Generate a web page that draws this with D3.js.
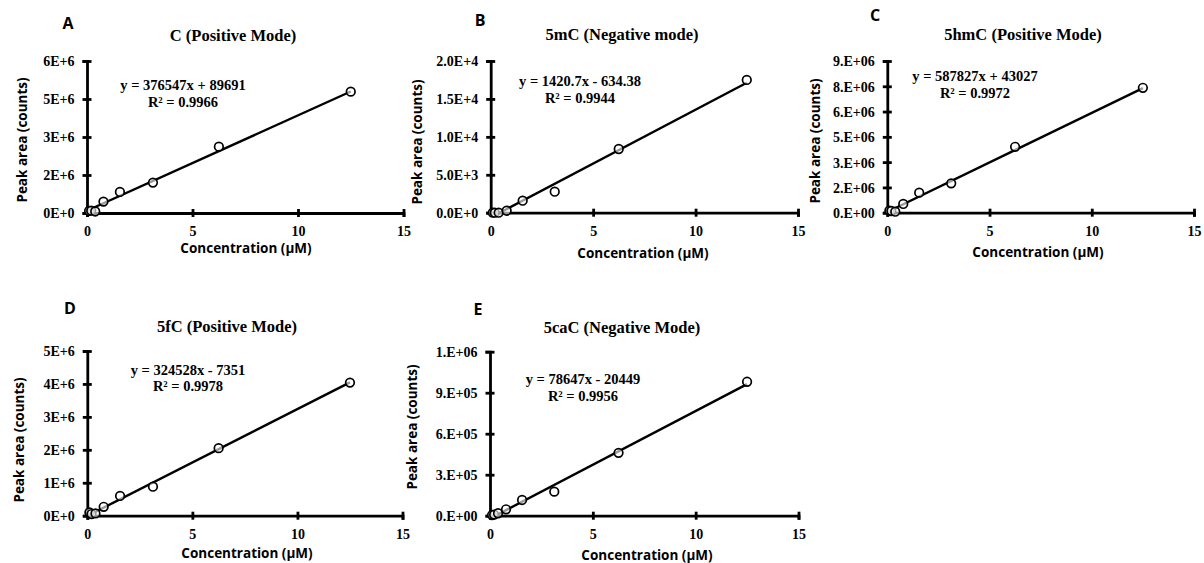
<!DOCTYPE html>
<html>
<head>
<meta charset="utf-8">
<script src="https://cdn.jsdelivr.net/npm/d3@7"></script>
<style>
  html, body { margin: 0; padding: 0; background: #fff; }
  svg { display: block; }
  .tick text { font-family: "Liberation Serif", "Times New Roman", serif; font-weight: bold; font-size: 14px; fill: #000; }
  .axis path, .axis line { stroke: #000; stroke-width: 2.8px; }
  .sans { font-family: "Open Sans", "Noto Sans", sans-serif; font-weight: bold; fill: #000; }
  .serif { font-family: "Liberation Serif", "Times New Roman", serif; font-weight: bold; fill: #000; }
</style>
</head>
<body>
<svg id="chart" width="1204" height="563"></svg>
<script>
// Standard concentrations (µM)
const concentration = [0.1, 0.2, 0.39, 0.78, 1.56, 3.125, 6.25, 12.5];

// Measured peak areas (counts) per nucleoside
const peakC     = [80000, 90000, 60000, 450000, 830000, 1200000, 2620000, 4790000];
const peak5mC   = [0, 0, 0, 260, 1580, 2770, 8400, 17500];
const peak5hmC  = [120000, 100000, 60000, 520000, 1190000, 1740000, 3910000, 7410000];
const peak5fC   = [100000, 50000, 70000, 270000, 600000, 880000, 2050000, 4040000];
const peak5caC  = [5000, 8000, 18000, 47000, 115000, 176000, 460000, 980000];

// Linear fits
const fitSlope     = [376547, 1420.7, 587827, 324528, 78647];
const fitIntercept = [89691, -634.38, 43027, -7351, -20449];
const fitEquation  = ["y = 376547x + 89691", "y = 1420.7x - 634.38", "y = 587827x + 43027", "y = 324528x - 7351", "y = 78647x - 20449"];
const fitR2        = ["R² = 0.9966", "R² = 0.9944", "R² = 0.9972", "R² = 0.9978", "R² = 0.9956"];

// Panel letters and titles
const panelLetters = ["A", "B", "C", "D", "E"];
const panelTitles  = ["C (Positive Mode)", "5mC (Negative mode)", "5hmC (Positive Mode)", "5fC (Positive Mode)", "5caC (Negative Mode)"];

// Axis ticks
const xTicks = [0, 5, 10, 15];
const yTicksC    = [0, 1500000, 3000000, 4500000, 6000000];
const yLabelsC   = ["0E+0", "2E+6", "3E+6", "5E+6", "6E+6"];
const yTicks5mC  = [0, 5000, 10000, 15000, 20000];
const yLabels5mC = ["0.0E+0", "5.0E+3", "1.0E+4", "1.5E+4", "2.0E+4"];
const yTicks5hmC  = [0, 1500000, 3000000, 4500000, 6000000, 7500000, 9000000];
const yLabels5hmC = ["0.E+00", "2.E+06", "3.E+06", "5.E+06", "6.E+06", "8.E+06", "9.E+06"];
const yTicks5fC  = [0, 1000000, 2000000, 3000000, 4000000, 5000000];
const yLabels5fC = ["0E+0", "1E+6", "2E+6", "3E+6", "4E+6", "5E+6"];
const yTicks5caC  = [0, 300000, 600000, 900000, 1200000];
const yLabels5caC = ["0.E+00", "3.E+05", "6.E+05", "9.E+05", "1.E+06"];

const xLabel = "Concentration (µM)";
const yLabel = "Peak area (counts)";

// Series table assembled from the arrays above
const series = [
  { peaks: peakC,    ticks: yTicksC,    labels: yLabelsC },
  { peaks: peak5mC,  ticks: yTicks5mC,  labels: yLabels5mC },
  { peaks: peak5hmC, ticks: yTicks5hmC, labels: yLabels5hmC },
  { peaks: peak5fC,  ticks: yTicks5fC,  labels: yLabels5fC },
  { peaks: peak5caC, ticks: yTicks5caC, labels: yLabels5caC }
];

// Panel geometry: plot box plus positions of the surrounding text
const layout = [
  { left: 87,    right: 403.5, top: 61,    bottom: 213,
    letter: [68, 29],  title: [233, 41],  eq: [183, 90, 107],  yl: [22, 140],  xl: [246, 253] },
  { left: 490.7, right: 798,   top: 61,    bottom: 212.7,
    letter: [480, 26], title: [622, 40],  eq: [580, 86, 103],  yl: [417, 142], xl: [643, 258] },
  { left: 887.3, right: 1194,  top: 61,    bottom: 212.7,
    letter: [875, 21], title: [1023, 40], eq: [975, 81, 98],   yl: [815, 141], xl: [1038, 257] },
  { left: 87.3,  right: 402.5, top: 351,   bottom: 515.7,
    letter: [70, 314], title: [227, 332], eq: [188, 375, 391], yl: [19, 440],  xl: [247, 558] },
  { left: 490,   right: 798.5, top: 351.7, bottom: 515.7,
    letter: [478, 315], title: [622, 333], eq: [583, 384, 401], yl: [412, 427], xl: [647, 560] }
];

const svg = d3.select("#chart");

series.forEach((s, i) => {
  const L = layout[i];
  const x = d3.scaleLinear().domain([0, 15]).range([L.left, L.right]);
  const yMax = s.ticks[s.ticks.length - 1];
  const y = d3.scaleLinear().domain([0, yMax]).range([L.bottom, L.top]);

  const g = svg.append("g");

  // x axis with ticks crossing the line
  const xa = g.append("g").attr("class", "axis")
    .attr("transform", `translate(0,${L.bottom})`)
    .call(d3.axisBottom(x).tickValues(xTicks).tickFormat(d3.format("d"))
      .tickSizeOuter(0).tickSize(4).tickPadding(9));
  xa.selectAll(".tick line").attr("y1", -4).attr("y2", 4);

  // y axis with ticks crossing the line
  const ya = g.append("g").attr("class", "axis")
    .attr("transform", `translate(${L.left},0)`)
    .call(d3.axisLeft(y).tickValues(s.ticks).tickFormat((d, k) => s.labels[k])
      .tickSizeOuter(0).tickSize(4.5).tickPadding(8));
  ya.selectAll(".tick line").attr("x1", -4.5).attr("x2", 4.5);
  ya.selectAll(".tick text").attr("dy", "0.35em");

  // regression line over the concentration range, kept above zero
  const m = fitSlope[i], b = fitIntercept[i];
  let x0 = d3.min(concentration);
  if (m * x0 + b < 0) x0 = -b / m;
  const x1 = d3.max(concentration);
  g.append("line")
    .attr("x1", x(x0)).attr("y1", y(m * x0 + b))
    .attr("x2", x(x1)).attr("y2", y(m * x1 + b))
    .attr("stroke", "#000").attr("stroke-width", 2.4);

  // data points
  g.selectAll("circle").data(concentration.map((c, k) => [c, s.peaks[k]]))
    .join("circle")
    .attr("cx", d => x(d[0])).attr("cy", d => y(d[1]))
    .attr("r", 4.3)
    .attr("fill", "#fff").attr("fill-opacity", 0.6)
    .attr("stroke", "#000").attr("stroke-width", 1.7);

  // equation and R²
  g.append("text").attr("class", "serif").attr("font-size", 14.5)
    .attr("text-anchor", "middle").attr("x", L.eq[0]).attr("y", L.eq[1])
    .text(fitEquation[i]);
  g.append("text").attr("class", "serif").attr("font-size", 14.5)
    .attr("text-anchor", "middle").attr("x", L.eq[0]).attr("y", L.eq[2])
    .text(fitR2[i]);

  // title and panel letter
  g.append("text").attr("class", "serif").attr("font-size", 16.5)
    .attr("text-anchor", "middle").attr("x", L.title[0]).attr("y", L.title[1])
    .text(panelTitles[i]);
  g.append("text").attr("class", "sans").attr("font-size", 16)
    .attr("text-anchor", "middle").attr("x", L.letter[0]).attr("y", L.letter[1])
    .text(panelLetters[i]);

  // axis titles
  g.append("text").attr("class", "sans").attr("font-size", 13.5)
    .attr("text-anchor", "middle").attr("x", L.xl[0]).attr("y", L.xl[1])
    .text(xLabel);
  g.append("text").attr("class", "sans").attr("font-size", 13.5)
    .attr("text-anchor", "middle")
    .attr("transform", `translate(${L.yl[0] + 5},${L.yl[1]}) rotate(-90)`)
    .text(yLabel);
});
</script>
</body>
</html>
